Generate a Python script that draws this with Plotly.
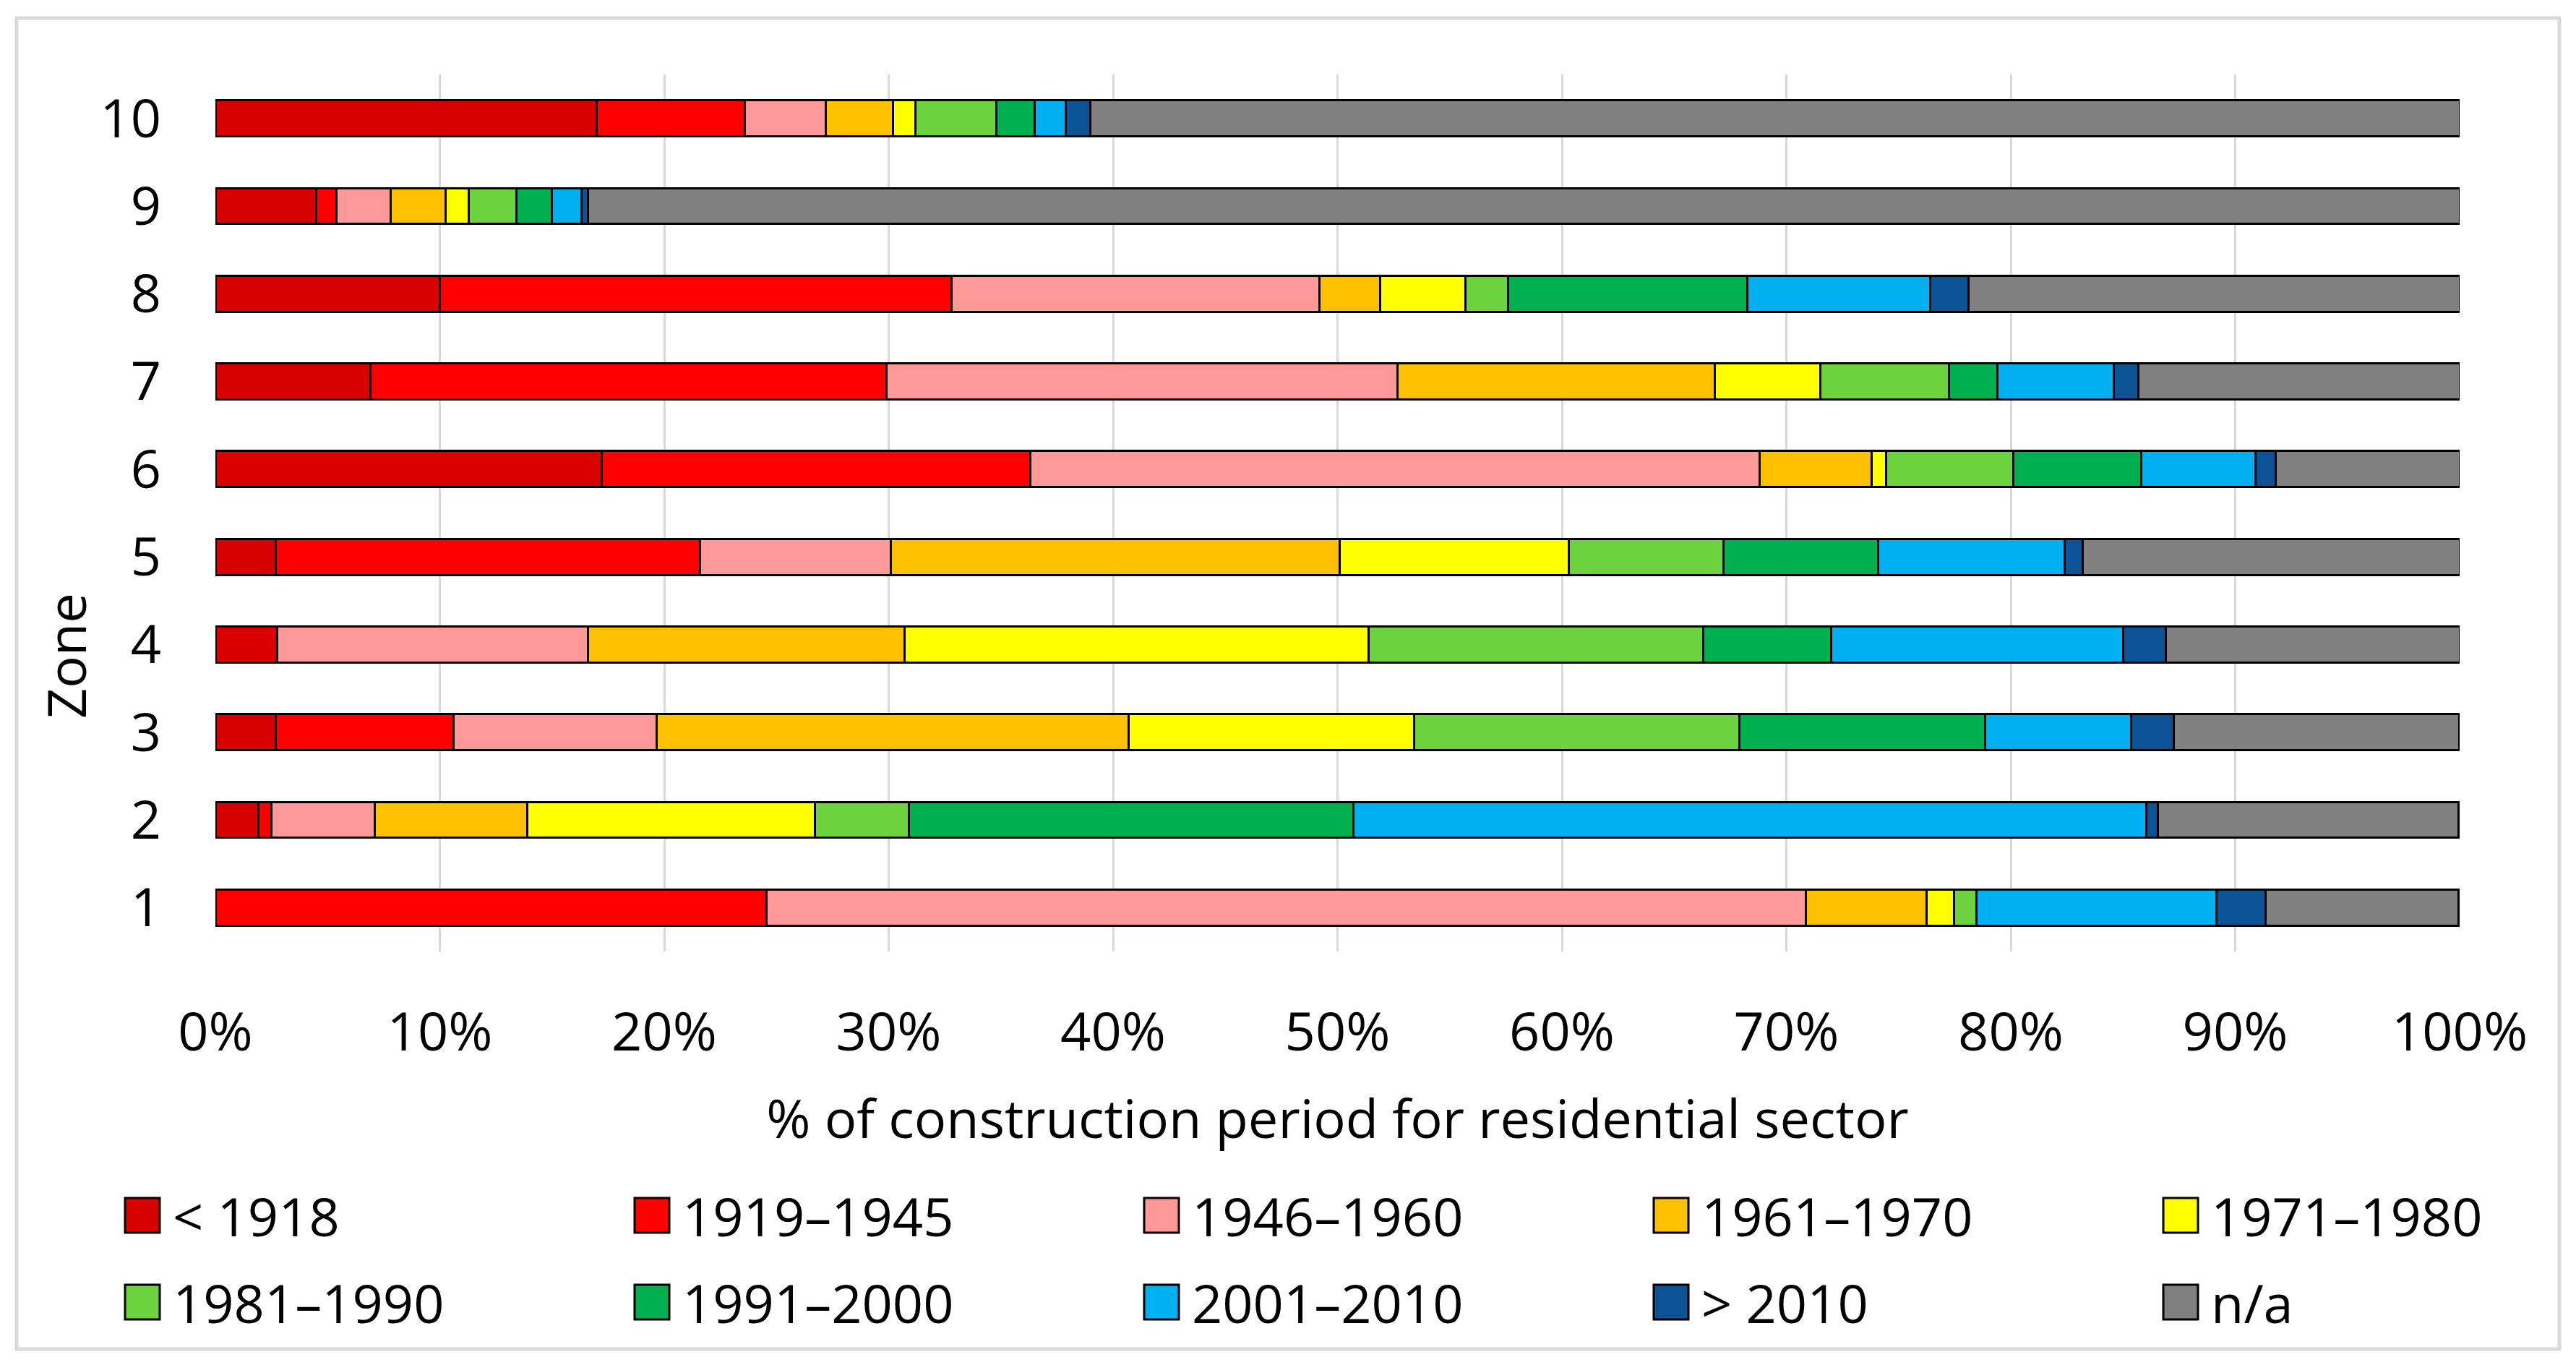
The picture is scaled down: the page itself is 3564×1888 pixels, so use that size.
import plotly.graph_objects as go

# ---------------- data ----------------
zones = ["1", "2", "3", "4", "5", "6", "7", "8", "9", "10"]
periods = ["< 1918", "1919–1945", "1946–1960", "1961–1970", "1971–1980",
           "1981–1990", "1991–2000", "2001–2010", "> 2010", "n/a"]
colors = ["#D80000", "#FF0000", "#FF9999", "#FFC000", "#FFFF00",
          "#6CD33F", "#00B050", "#00B0F0", "#0B5394", "#808080"]

pre_1918  = [0.0, 1.9, 2.7, 2.75, 2.7, 17.2, 6.9, 10.0, 4.5, 17.0]
p1919_45  = [24.56, 0.6, 7.9, 0.0, 18.9, 19.1, 23.0, 22.8, 0.9, 6.6]
p1946_60  = [46.3, 4.6, 9.05, 13.85, 8.5, 32.5, 22.76, 16.4, 2.4, 3.6]
p1961_70  = [5.4, 6.8, 21.05, 14.1, 20.0, 5.0, 14.14, 2.7, 2.45, 3.0]
p1971_80  = [1.2, 12.8, 12.7, 20.7, 10.2, 0.65, 4.7, 3.8, 1.05, 1.0]
p1981_90  = [1.0, 4.2, 14.5, 14.9, 6.9, 5.65, 5.75, 1.9, 2.1, 3.6]
p1991_00  = [0.0, 19.8, 10.97, 5.7, 6.9, 5.7, 2.15, 10.65, 1.6, 1.7]
p2001_10  = [10.7, 35.35, 6.5, 13.0, 8.3, 5.1, 5.2, 8.15, 1.3, 1.4]
post_2010 = [2.2, 0.5, 1.9, 1.9, 0.8, 0.9, 1.1, 1.7, 0.3, 1.1]
not_avail = [8.6, 13.4, 12.7, 13.1, 16.8, 8.2, 14.3, 21.9, 83.4, 61.0]

series = [pre_1918, p1919_45, p1946_60, p1961_70, p1971_80,
          p1981_90, p1991_00, p2001_10, post_2010, not_avail]

x_ticks = [0, 10, 20, 30, 40, 50, 60, 70, 80, 90, 100]

# ---------------- layout geometry (pixels) ----------------
OFF = 8  # default page body margin
W, H = 3564 - OFF, 1888 - OFF
L, R, T, B = 298 - OFF, 161, 103 - OFF, 572
PW, PH = W - L - R, H - T - B
FONT = "Open Sans"
FS = 74


def px_x(p):
    return (p - OFF - L) / PW


def px_y(p):
    return (H - B - (p - OFF)) / PH


fig = go.Figure()
for name, vals, col in zip(periods, series, colors):
    fig.add_trace(go.Bar(
        y=zones, x=vals, name=name, orientation="h",
        marker=dict(color=col, line=dict(color="#000000", width=3)),
        showlegend=False,
    ))

shapes = []
annotations = []

# outer frame of the figure
shapes.append(dict(type="rect", xref="paper", yref="paper",
                   x0=px_x(23), x1=px_x(3541), y0=px_y(1866), y1=px_y(25),
                   line=dict(color="#D9D9D9", width=5), fillcolor="rgba(0,0,0,0)",
                   layer="below"))

# custom legend (5 columns x 2 rows)
for i, (name, col) in enumerate(zip(periods, colors)):
    c, r = i % 5, i // 5
    x0 = 173 + c * 705
    yc = 1681 + r * 120
    shapes.append(dict(type="rect", xref="paper", yref="paper",
                       x0=px_x(x0), x1=px_x(x0 + 48),
                       y0=px_y(yc + 24), y1=px_y(yc - 24),
                       fillcolor=col, line=dict(color="#000000", width=3)))
    annotations.append(dict(xref="paper", yref="paper", x=px_x(x0 + 64), y=px_y(yc),
                            xanchor="left", yanchor="middle", showarrow=False,
                            text=name, font=dict(family=FONT, size=FS, color="#000000")))

# y-axis title
annotations.append(dict(xref="paper", yref="paper", x=px_x(91), y=px_y(907),
                        xanchor="center", yanchor="middle", showarrow=False,
                        text="Zone", textangle=-90,
                        font=dict(family=FONT, size=FS, color="#000000")))

fig.update_layout(
    width=W, height=H,
    margin=dict(l=L, r=R, t=T, b=B, autoexpand=False),
    paper_bgcolor="#FFFFFF", plot_bgcolor="#FFFFFF",
    barmode="stack", bargap=0.59,
    font=dict(family=FONT, size=FS, color="#000000"),
    shapes=shapes, annotations=annotations,
    showlegend=False,
)
fig.update_xaxes(
    range=[0, 100], tickmode="array", tickvals=x_ticks,
    ticktext=[f"{v}%" for v in x_ticks],
    showgrid=True, gridcolor="#D9D9D9", gridwidth=3,
    zeroline=False, showline=False, ticks="",
    ticklabelstandoff=62,
    tickfont=dict(family=FONT, size=FS, color="#000000"),
    title=dict(text="% of construction period for residential sector",
               font=dict(family=FONT, size=FS, color="#000000"), standoff=48),
)
fig.update_yaxes(
    categoryorder="array", categoryarray=zones,
    showgrid=False, zeroline=False, showline=False, ticks="",
    ticklabelstandoff=74,
    tickfont=dict(family=FONT, size=FS, color="#000000"),
)

fig.write_html("out.html")
